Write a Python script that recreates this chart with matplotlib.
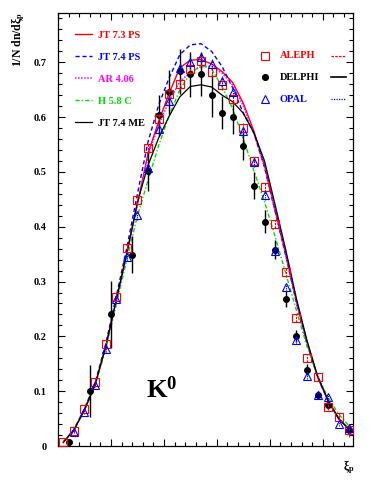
import matplotlib
matplotlib.use("Agg")
import matplotlib.pyplot as plt
from matplotlib.ticker import MultipleLocator

plt.rcParams["font.family"] = ["Liberation Serif", "DejaVu Serif"]
plt.rcParams["font.weight"] = "bold"
plt.rcParams["mathtext.fontset"] = "custom"
plt.rcParams["mathtext.rm"] = "Liberation Serif:bold"
plt.rcParams["mathtext.it"] = "Liberation Serif:bold"
plt.rcParams["mathtext.bf"] = "Liberation Serif:bold"

# -----------------------------
# Data
# -----------------------------
x_grid = [0.1, 0.3, 0.5, 0.7, 0.9, 1.1, 1.3, 1.5, 1.7, 1.9, 2.1, 2.3, 2.5, 2.7,
          2.9, 3.1, 3.3, 3.5, 3.7, 3.9, 4.1, 4.3, 4.5, 4.7, 4.9, 5.1, 5.3, 5.5]

# model curves
jt73_ps = [0.007, 0.029, 0.066, 0.112, 0.181, 0.266, 0.352, 0.442, 0.534, 0.592,
           0.644, 0.690, 0.704, 0.705, 0.697, 0.683, 0.663, 0.625, 0.574, 0.512,
           0.430, 0.350, 0.265, 0.190, 0.127, 0.082, 0.050, 0.030]
jt74_ps = [0.007, 0.030, 0.068, 0.115, 0.186, 0.273, 0.362, 0.460, 0.555, 0.622,
           0.672, 0.714, 0.732, 0.734, 0.720, 0.692, 0.653, 0.607, 0.571, 0.508,
           0.428, 0.348, 0.262, 0.188, 0.126, 0.082, 0.050, 0.030]
ar406 = [0.007, 0.029, 0.066, 0.112, 0.180, 0.265, 0.350, 0.440, 0.530, 0.585,
         0.630, 0.665, 0.682, 0.692, 0.693, 0.680, 0.658, 0.620, 0.570, 0.510,
         0.428, 0.348, 0.262, 0.188, 0.126, 0.082, 0.050, 0.030]
h58c = [0.007, 0.029, 0.065, 0.110, 0.176, 0.258, 0.340, 0.420, 0.485, 0.548,
        0.603, 0.650, 0.680, 0.695, 0.688, 0.655, 0.615, 0.560, 0.502, 0.445,
        0.382, 0.315, 0.248, 0.182, 0.128, 0.088, 0.058, 0.036]
jt74_me = [0.007, 0.029, 0.066, 0.112, 0.181, 0.266, 0.352, 0.445, 0.512, 0.562,
           0.602, 0.637, 0.656, 0.659, 0.655, 0.640, 0.628, 0.607, 0.571, 0.520,
           0.440, 0.358, 0.270, 0.193, 0.128, 0.083, 0.050, 0.030]

# ALEPH
x_aleph = x_grid
y_aleph = [0.007, 0.028, 0.067, 0.117, 0.186, 0.272, 0.361, 0.449, 0.543, 0.596,
           0.643, 0.660, 0.688, 0.703, 0.683, 0.659, 0.633, 0.581, 0.520, 0.473,
           0.405, 0.317, 0.233, 0.160, 0.125, 0.072, 0.053, 0.029]
e_aleph = [0.002, 0.003, 0.004, 0.005, 0.006, 0.007, 0.008, 0.008, 0.009, 0.009,
           0.010, 0.010, 0.010, 0.010, 0.010, 0.010, 0.010, 0.009, 0.009, 0.009,
           0.008, 0.008, 0.007, 0.006, 0.006, 0.006, 0.008, 0.012]

# DELPHI
x_delphi = [0.2, 0.6, 1.0, 1.4, 1.7, 1.9, 2.1, 2.3, 2.5, 2.7, 2.9, 3.1, 3.3,
            3.5, 3.7, 3.9, 4.1, 4.3, 4.5, 4.7, 4.9, 5.1, 5.5]
y_delphi = [0.007, 0.100, 0.240, 0.349, 0.502, 0.603, 0.646, 0.684, 0.678, 0.678,
            0.640, 0.608, 0.601, 0.548, 0.475, 0.409, 0.358, 0.268, 0.200, 0.139,
            0.093, 0.075, 0.030]
e_delphi = [0.003, 0.048, 0.061, 0.034, 0.036, 0.037, 0.040, 0.041, 0.041, 0.040,
            0.039, 0.030, 0.031, 0.026, 0.024, 0.021, 0.017, 0.014, 0.011, 0.010,
            0.008, 0.008, 0.006]

# OPAL
x_opal = x_grid[1:]
y_opal = [0.026, 0.062, 0.112, 0.177, 0.268, 0.345, 0.421, 0.508, 0.578, 0.629,
          0.690, 0.701, 0.709, 0.697, 0.666, 0.645, 0.574, 0.518, 0.458, 0.356,
          0.290, 0.193, 0.128, 0.093, 0.089, 0.041, 0.032]
e_opal = [0.003, 0.004, 0.005, 0.006, 0.007, 0.008, 0.008, 0.009, 0.009, 0.010,
          0.010, 0.010, 0.010, 0.010, 0.010, 0.010, 0.009, 0.009, 0.009, 0.008,
          0.008, 0.007, 0.006, 0.006, 0.006, 0.005, 0.005]

RED, BLUE, MAG, GREEN = "#ff0000", "#0000ff", "#ff00ff", "#00dd00"

# -----------------------------
# Plot
# -----------------------------
fig = plt.figure(figsize=(3.82, 4.94), dpi=100)
ax = fig.add_axes([58 / 382, 1 - 446 / 494, 295 / 382, 433 / 494])

ax.plot(x_grid, jt73_ps, color=RED, lw=1.0, label="JT 7.3 PS")
ax.plot(x_grid, jt74_ps, color=BLUE, lw=1.0, ls=(0, (3, 2)), label="JT 7.4 PS")
ax.plot(x_grid, ar406, color=MAG, lw=1.1, ls=(0, (1, 1)), label="AR 4.06")
ax.plot(x_grid, h58c, color=GREEN, lw=1.0, ls=(0, (3, 1.5, 1, 1.5)), label="H 5.8 C")
ax.plot(x_grid, jt74_me, color="black", lw=0.9, label="JT 7.4 ME")

ax.errorbar(x_delphi, y_delphi, yerr=e_delphi, fmt="o", ms=4, color="black",
            ecolor="black", elinewidth=1.0, capsize=0, zorder=5)
eb = ax.errorbar(x_aleph, y_aleph, yerr=e_aleph, fmt="s", ms=5.5, mfc="none",
                 mec=RED, mew=0.8, ecolor=RED, elinewidth=0.8, capsize=0, zorder=6)
eb[2][0].set_linestyle((0, (2, 1)))
eb = ax.errorbar(x_opal, y_opal, yerr=e_opal, fmt="^", ms=5.5, mfc="none",
                 mec=BLUE, mew=0.8, ecolor=BLUE, elinewidth=0.8, capsize=0, zorder=6)
eb[2][0].set_linestyle((0, (1, 1)))

ax.set_xlim(0, 5.57)
ax.set_ylim(0, 0.79)
ax.xaxis.set_major_locator(MultipleLocator(1.0))
ax.xaxis.set_minor_locator(MultipleLocator(0.2))
ax.yaxis.set_major_locator(MultipleLocator(0.1))
ax.yaxis.set_minor_locator(MultipleLocator(0.02))
ax.set_xticklabels([])
ax.set_yticks([0, 0.1, 0.2, 0.3, 0.4, 0.5, 0.6, 0.7])
ax.set_yticklabels(["0", "0.1", "0.2", "0.3", "0.4", "0.5", "0.6", "0.7"])
ax.tick_params(which="both", direction="in", top=True, right=True, width=0.8)
ax.tick_params(which="major", length=5)
ax.tick_params(which="minor", length=2.8)
ax.tick_params(axis="y", labelsize=7.5, pad=8)
for s in ax.spines.values():
    s.set_linewidth(0.9)

# model legend
leg = ax.legend(loc="upper left", bbox_to_anchor=(0.04, 0.972), frameon=False,
                fontsize=7.5, handlelength=1.6, handletextpad=0.6,
                labelspacing=1.22, borderpad=0, labelcolor="linecolor",
                prop={"weight": "bold", "size": 7.5})

# data legend (marker, name, error bar style)
data_leg = [("ALEPH", "s", RED, "none", (0, (2, 1))),
            ("DELPHI", "o", "black", "black", "-"),
            ("OPAL", "^", BLUE, "none", (0, (1, 1)))]
for i, (name, mk, col, fc, ls) in enumerate(data_leg):
    yy = (446 - (56 + 21.5 * i)) / 433
    ax.plot([(265 - 58) / 295], [yy], marker=mk, ms=5.5 if mk != "o" else 4.3,
            mfc=fc, mec=col, mew=0.8, transform=ax.transAxes, clip_on=False)
    ax.text((280 - 58) / 295, yy, name, color=col, fontsize=7.5,
            fontweight="bold", va="center", ha="left", transform=ax.transAxes)
    ax.plot([(331 - 58) / 295, (346 - 58) / 295], [yy, yy], color=col,
            lw=1.2 if ls == "-" else 0.9, ls=ls, transform=ax.transAxes)

ax.text(0.30, 0.13, r"$\mathrm{K}^{0}$", fontsize=19, transform=ax.transAxes,
        ha="left", va="center")

fig.text(18 / 382, 1 - 12 / 494, r"1/N dn/d$\xi_{p}$", rotation=90,
         ha="center", va="top", fontsize=8.5, fontweight="bold")
fig.text(354 / 382, 1 - 467 / 494, r"$\xi_{p}$", ha="right", va="center",
         fontsize=8.5)

fig.savefig("out.png", dpi=100)
